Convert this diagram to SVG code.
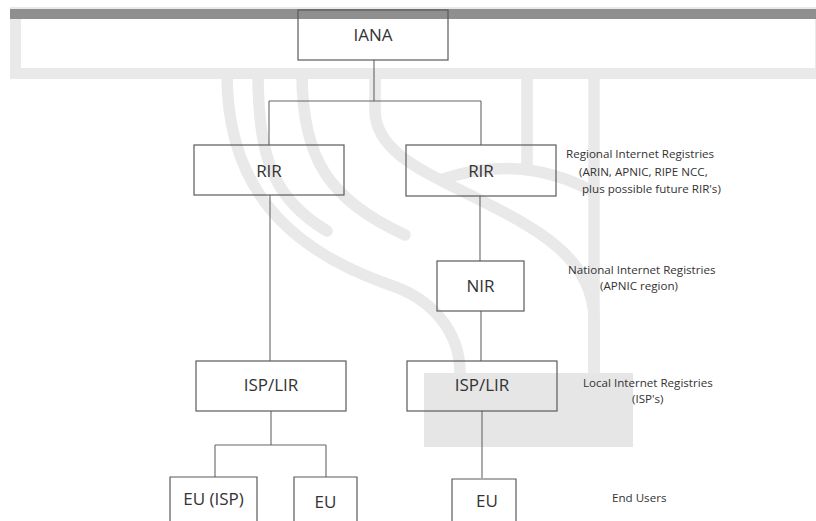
<svg xmlns="http://www.w3.org/2000/svg" width="816" height="521" viewBox="0 0 816 521">
<style>
.wm{fill:none;stroke:#e9e9e9;stroke-width:11.5;stroke-linecap:round}
.wmb{fill:none;stroke:#e9e9e9;stroke-width:11.5;stroke-linecap:butt}
.box{fill:none;stroke:#5a5a5a;stroke-width:1.2}
.lbl{font-family:"Open Sans","Liberation Sans",sans-serif;font-size:17px;fill:#333;text-anchor:middle}
.side{font-family:"Open Sans","Liberation Sans",sans-serif;font-size:11.6px;fill:#333}
.con{fill:none;stroke:#666;stroke-width:1.1}
</style>
<rect width="816" height="521" fill="#fff"/>
<g id="watermark">
  <rect x="10" y="7" width="806" height="72" fill="#e9e9e9"/>
  <rect x="10" y="9" width="806" height="10" fill="#8f8f8f"/>
  <rect x="21" y="19" width="794" height="49" fill="#fff"/>
  <path class="wmb" d="M227,74 C227,190 290,250 390,285 C430,298 460,330 460,373"/>
  <path class="wm" d="M258,74 C258,160 275,200 327,231"/>
  <path class="wm" d="M302,74 C302,160 330,200 405,235"/>
  <path class="wmb" d="M375,74 L375,110 C375,150 420,170 470,195 C530,225 594,255 594,320 L594,373"/>
  <path class="wmb" d="M527,74 L527,172"/>
  <path class="wmb" d="M594,74 L594,373"/>
  <path class="wmb" d="M440,180 Q520,152 594,192"/>
  <rect x="424" y="373" width="209" height="74" fill="#e6e6e6"/>
</g>
<g id="connectors">
  <path class="con" d="M374,60 V101 M269,101 H481 M269,101 V145 M481,101 V145"/>
  <path class="con" d="M270,195 V361"/>
  <path class="con" d="M480,196 V261 M481,311 V361"/>
  <path class="con" d="M271,411 V445 M215,445 H326 M215,445 V477 M326,445 V477"/>
  <path class="con" d="M482,411 V478"/>
</g>
<g id="iana"><rect class="box" x="298" y="10" width="150" height="50"/><text class="lbl" x="373" y="41">IANA</text></g>
<g id="rir1"><rect class="box" x="194" y="145" width="150" height="50"/><text class="lbl" x="269" y="177">RIR</text></g>
<g id="rir2"><rect class="box" x="406" y="145" width="150" height="51"/><text class="lbl" x="481" y="177">RIR</text></g>
<g id="nir"><rect class="box" x="437" y="261" width="87" height="50"/><text class="lbl" x="480.5" y="292">NIR</text></g>
<g id="lir1"><rect class="box" x="196" y="361" width="150" height="50"/><text class="lbl" x="271" y="391">ISP/LIR</text></g>
<g id="lir2"><rect class="box" x="407" y="361" width="150" height="50"/><text class="lbl" x="482" y="391">ISP/LIR</text></g>
<g id="eu1"><path class="box" d="M170,530 V477 H257 V530"/><text class="lbl" x="213.5" y="505">EU (ISP)</text></g>
<g id="eu2"><path class="box" d="M294,530 V477 H357 V530"/><text class="lbl" x="325.5" y="508">EU</text></g>
<g id="eu3"><path class="box" d="M452,530 V479 H516 V530"/><text class="lbl" x="487" y="507">EU</text></g>
<g id="labels">
  <text class="side" x="566" y="158">Regional Internet Registries</text>
  <text class="side" x="579" y="176">(ARIN, APNIC, RIPE NCC,</text>
  <text class="side" x="582" y="193">plus possible future RIR's)</text>
  <text class="side" x="568" y="274">National Internet Registries</text>
  <text class="side" x="600" y="290">(APNIC region)</text>
  <text class="side" x="583" y="387">Local Internet Registries</text>
  <text class="side" x="632" y="403">(ISP's)</text>
  <text class="side" x="612" y="502">End Users</text>
</g>
</svg>
